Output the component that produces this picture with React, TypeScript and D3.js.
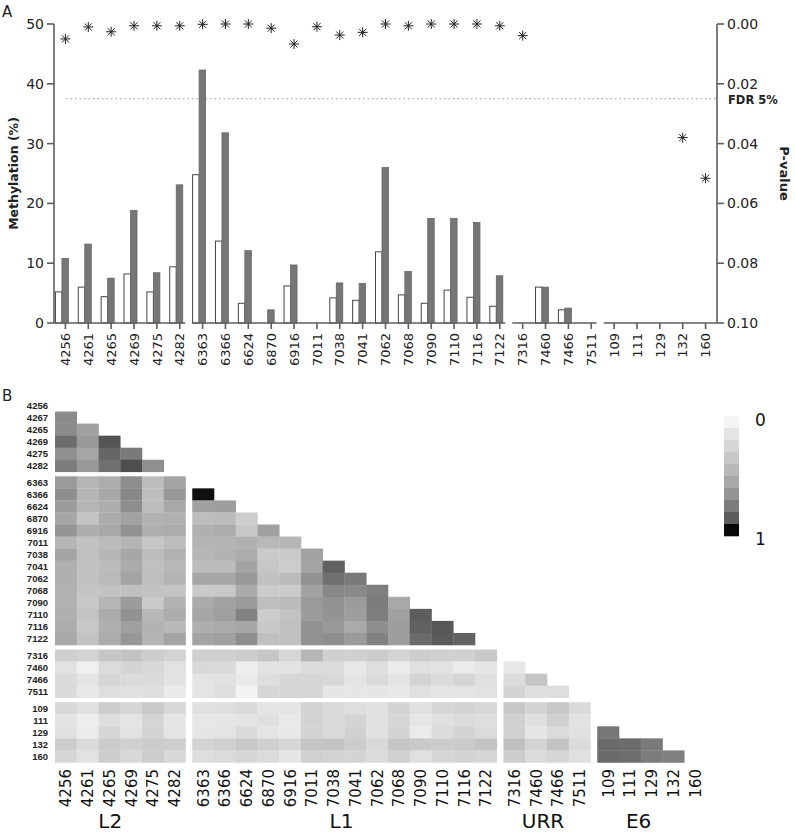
import React, { useEffect, useRef } from "react";
import * as d3 from "d3";

const sites = ["4256","4261","4265","4269","4275","4282","6363","6366","6624","6870","6916","7011","7038","7041","7062","7068","7090","7110","7116","7122","7316","7460","7466","7511","109","111","129","132","160"];
const rowLabels = ["4256","4267","4265","4269","4275","4282","6363","6366","6624","6870","6916","7011","7038","7041","7062","7068","7090","7110","7116","7122","7316","7460","7466","7511","109","111","129","132","160"];
const groups = ["L2","L1","URR","E6"];
const groupSizes = [6, 14, 4, 5];

const methylWhite = [5.2, 6.0, 4.4, 8.2, 5.2, 9.4, 24.8, 13.7, 3.3, 0, 6.2, 0, 4.2, 3.8, 11.9, 4.7, 3.3, 5.5, 4.3, 2.8, 0, 6.0, 2.2, 0, 0, 0, 0, 0, 0];
const methylGrey = [10.8, 13.2, 7.5, 18.8, 8.4, 23.1, 42.3, 31.8, 12.1, 2.2, 9.7, 0, 6.7, 6.6, 26.0, 8.6, 17.5, 17.5, 16.8, 7.9, 0, 6.0, 2.5, 0, 0, 0, 0, 0, 0];
const pValues: (number | null)[] = [0.005, 0.001, 0.0026, 0.0006, 0.0006, 0.0006, 0.0001, 0, 0, 0.0014, 0.0067, 0.0009, 0.0037, 0.0028, 0, 0.0006, 0, 0, 0, 0.0006, 0.0039, null, null, null, null, null, null, 0.038, 0.0516];
const methylTicks = [0, 10, 20, 30, 40, 50];
const pTicks = [0, 0.02, 0.04, 0.06, 0.08, 0.1];
const fdrThreshold = 0.025;

// lower-triangle correlation matrix (row i has values for columns 0..i-1)
const heat: (number | null)[][] = [
  [],
  [0.71],
  [0.71, 0.60],
  [0.83, 0.64, 0.90],
  [0.685, 0.567, 0.854, 0.785],
  [0.778, 0.64, 0.819, 0.906, 0.69],
  [0.633, 0.465, 0.528, 0.694, 0.41, 0.583],
  [0.694, 0.465, 0.556, 0.722, 0.403, 0.644, 0.99],
  [0.622, 0.458, 0.514, 0.694, 0.417, 0.556, 0.6, 0.61],
  [0.567, 0.361, 0.528, 0.589, 0.486, 0.5, 0.40, 0.417, 0.286],
  [0.66, 0.514, 0.556, 0.676, 0.5, 0.528, 0.5, 0.528, 0.333, 0.6],
  [0.458, 0.375, 0.424, 0.465, 0.347, 0.41, 0.472, 0.472, 0.5, 0.444, 0.458],
  [0.578, 0.389, 0.458, 0.562, 0.41, 0.486, 0.458, 0.486, 0.528, 0.32, 0.32, 0.589],
  [0.5, 0.389, 0.417, 0.535, 0.389, 0.444, 0.417, 0.417, 0.578, 0.347, 0.3, 0.578, 0.87],
  [0.5, 0.375, 0.431, 0.578, 0.396, 0.472, 0.567, 0.567, 0.644, 0.375, 0.431, 0.676, 0.819, 0.785],
  [0.486, 0.361, 0.375, 0.389, 0.375, 0.361, 0.32, 0.333, 0.54, 0.31, 0.31, 0.589, 0.722, 0.713, 0.765],
  [0.486, 0.333, 0.458, 0.622, 0.32, 0.486, 0.54, 0.589, 0.633, 0.40, 0.431, 0.633, 0.676, 0.622, 0.778, 0.556],
  [0.5, 0.361, 0.535, 0.676, 0.444, 0.528, 0.567, 0.61, 0.75, 0.31, 0.375, 0.622, 0.67, 0.61, 0.77, 0.6, 0.885],
  [0.528, 0.333, 0.5, 0.6, 0.486, 0.444, 0.514, 0.54, 0.567, 0.333, 0.389, 0.676, 0.64, 0.54, 0.694, 0.61, 0.87, 0.895],
  [0.556, 0.375, 0.528, 0.65, 0.472, 0.578, 0.578, 0.6, 0.694, 0.389, 0.389, 0.676, 0.694, 0.633, 0.75, 0.61, 0.84, 0.89, 0.865],
  [0.28, 0.25, 0.35, 0.37, 0.29, 0.25, 0.27, 0.27, 0.29, 0.35, 0.22, 0.46, 0.27, 0.27, 0.30, 0.24, 0.29, 0.27, 0.27, 0.33],
  [0.13, 0.03, 0.18, 0.24, 0.21, 0.13, 0.21, 0.19, 0.04, 0.13, 0.13, 0.18, 0.18, 0.08, 0.16, 0.06, 0.14, 0.13, 0.06, 0.10, 0.08],
  [0.18, 0.11, 0.22, 0.18, 0.19, 0.13, 0.11, 0.13, 0.07, 0.16, 0.22, 0.22, 0.21, 0.11, 0.19, 0.11, 0.25, 0.18, 0.24, 0.14, 0.18, 0.36],
  [0.19, 0.08, 0.16, 0.14, 0.16, 0.07, 0.11, 0.16, 0.01, 0.22, 0.22, 0.22, 0.10, 0.10, 0.10, 0.08, 0.14, 0.11, 0.11, 0.13, 0.24, 0.16, 0.16],
  [0.21, 0.14, 0.30, 0.22, 0.32, 0.21, 0.14, 0.16, 0.19, 0.11, 0.11, 0.25, 0.19, 0.16, 0.14, 0.25, 0.14, 0.22, 0.25, 0.21, 0.33, 0.24, 0.33, 0.19],
  [0.11, 0.04, 0.16, 0.11, 0.24, 0.10, 0.10, 0.10, 0.11, 0.14, 0.08, 0.25, 0.19, 0.24, 0.14, 0.22, 0.10, 0.14, 0.18, 0.16, 0.27, 0.14, 0.27, 0.13, null],
  [0.14, 0.06, 0.22, 0.13, 0.24, 0.11, 0.10, 0.11, 0.19, 0.11, 0.08, 0.24, 0.19, 0.27, 0.14, 0.24, 0.06, 0.18, 0.24, 0.18, 0.27, 0.10, 0.18, 0.14, 0.80, null],
  [0.29, 0.19, 0.30, 0.27, 0.30, 0.29, 0.25, 0.27, 0.33, 0.28, 0.22, 0.35, 0.36, 0.31, 0.21, 0.35, 0.32, 0.30, 0.32, 0.37, 0.39, 0.25, 0.36, 0.18, 0.84, 0.83, 0.785],
  [0.22, 0.13, 0.29, 0.21, 0.30, 0.21, 0.16, 0.18, 0.22, 0.18, 0.10, 0.27, 0.25, 0.24, 0.18, 0.27, 0.14, 0.22, 0.24, 0.22, 0.30, 0.18, 0.22, 0.14, 0.84, 0.83, 0.778, 0.76],
];
const legendGreys = ["#f4f4f4", "#e4e4e4", "#d6d6d6", "#c8c8c8", "#b8b8b8", "#a8a8a8", "#949494", "#7c7c7c", "#5c5c5c", "#080808"];
const legendLabels = ["0", "1"];

const W = 795, H = 833;
const FONT = "'DejaVu Sans', Verdana, sans-serif";
const ARIAL = "'Liberation Sans', Arial, sans-serif";

export default function App() {
  const ref = useRef<SVGSVGElement>(null);
  useEffect(() => {
    const svg = d3.select(ref.current!);
    svg.selectAll("*").remove();
    const groupOf: number[] = [];
    groupSizes.forEach((n, gi) => { for (let k = 0; k < n; k++) groupOf.push(gi); });
    const axisColor = "#5e5e5e";

    // ---------- Panel A ----------
    const left = 54, right = 717, top = 24, base = 323;
    const x = d3.scaleBand<string>().domain(sites).range([left, right]);
    const y = d3.scaleLinear().domain([0, 50]).range([base, top]);
    const py = d3.scaleLinear().domain([0, 0.1]).range([top, base]);
    const A = svg.append("g");

    A.append("text").attr("x", 2).attr("y", 17).text("A")
      .attr("font-family", FONT).attr("font-size", 15).attr("fill", "#222");

    // FDR line
    A.append("line").attr("x1", 66).attr("x2", right).attr("y1", py(fdrThreshold)).attr("y2", py(fdrThreshold))
      .attr("stroke", "#999").attr("stroke-width", 1).attr("stroke-dasharray", "1.5,3");
    A.append("text").attr("x", 728).attr("y", py(fdrThreshold) + 5).text("FDR 5%")
      .attr("font-family", FONT).attr("font-size", 11.5).attr("font-weight", "bold").attr("fill", "#222");

    // bars
    const idx = sites.map((_, i) => i);
    const cx = (i: number) => x(sites[i])! + x.bandwidth() / 2;
    A.selectAll("rect.w").data(idx.filter(i => methylWhite[i] > 0)).join("rect")
      .attr("x", i => cx(i) - 10).attr("width", 6.5)
      .attr("y", i => y(methylWhite[i])).attr("height", i => base - y(methylWhite[i]))
      .attr("fill", "#fff").attr("stroke", "#444").attr("stroke-width", 1);
    A.selectAll("rect.g").data(idx.filter(i => methylGrey[i] > 0)).join("rect")
      .attr("x", i => cx(i) - 3.5).attr("width", 6.5)
      .attr("y", i => y(methylGrey[i])).attr("height", i => base - y(methylGrey[i]))
      .attr("fill", "#767676").attr("stroke", "#666").attr("stroke-width", 0.8);

    // asterisks
    const star = (r: number) => {
      const p = d3.path();
      for (let k = 0; k < 4; k++) {
        const a = (k * Math.PI) / 4;
        p.moveTo(-r * Math.cos(a), -r * Math.sin(a));
        p.lineTo(r * Math.cos(a), r * Math.sin(a));
      }
      return p.toString();
    };
    A.selectAll("path.star").data(idx.filter(i => pValues[i] !== null)).join("path")
      .attr("d", star(5))
      .attr("transform", i => `translate(${cx(i)},${py(pValues[i] as number)})`)
      .attr("stroke", "#222").attr("stroke-width", 1).attr("fill", "none");

    // left axis
    A.append("line").attr("x1", left).attr("x2", left).attr("y1", top).attr("y2", base)
      .attr("stroke", axisColor).attr("stroke-width", 1.6);
    methylTicks.forEach(t => {
      A.append("line").attr("x1", left - 7).attr("x2", left).attr("y1", y(t)).attr("y2", y(t))
        .attr("stroke", axisColor).attr("stroke-width", 1.6);
      A.append("text").attr("x", left - 10).attr("y", y(t)).attr("dy", "0.36em")
        .attr("text-anchor", "end").text(String(t))
        .attr("font-family", FONT).attr("font-size", 14).attr("fill", "#222");
    });
    // right axis
    A.append("line").attr("x1", right).attr("x2", right).attr("y1", top).attr("y2", base)
      .attr("stroke", axisColor).attr("stroke-width", 1.6);
    pTicks.forEach(t => {
      A.append("line").attr("x1", right).attr("x2", right + 7).attr("y1", py(t)).attr("y2", py(t))
        .attr("stroke", axisColor).attr("stroke-width", 1.6);
      A.append("text").attr("x", right + 10).attr("y", py(t)).attr("dy", "0.36em")
        .text(t.toFixed(2))
        .attr("font-family", FONT).attr("font-size", 14).attr("fill", "#222");
    });
    // bottom axis segments per group
    let start = 0;
    groupSizes.forEach((n, gi) => {
      const first = sites[start], last = sites[start + n - 1];
      const x0 = gi === 0 ? left : x(first)! + 1;
      const x1 = gi === groupSizes.length - 1 ? right : x(last)! + x.bandwidth() - 6;
      A.append("line").attr("x1", x0).attr("x2", x1).attr("y1", base).attr("y2", base)
        .attr("stroke", axisColor).attr("stroke-width", 1.6);
      start += n;
    });
    sites.forEach((s, i) => {
      A.append("line").attr("x1", cx(i)).attr("x2", cx(i)).attr("y1", base).attr("y2", base + 6)
        .attr("stroke", axisColor).attr("stroke-width", 1.6);
      A.append("text").attr("transform", `translate(${cx(i)},${base + 10}) rotate(-90)`)
        .attr("text-anchor", "end").attr("dy", "0.36em").text(s)
        .attr("font-family", FONT).attr("font-size", 13).attr("fill", "#222");
    });
    A.append("text").attr("transform", `translate(18,${(top + base) / 2}) rotate(-90)`)
      .attr("text-anchor", "middle").text("Methylation (%)")
      .attr("font-family", FONT).attr("font-size", 12.5).attr("font-weight", "bold").attr("fill", "#222");
    A.append("text").attr("transform", `translate(780,${(top + base) / 2}) rotate(90)`)
      .attr("text-anchor", "middle").text("P-value")
      .attr("font-family", FONT).attr("font-size", 13).attr("font-weight", "bold").attr("fill", "#222");

    // ---------- Panel B ----------
    const B = svg.append("g");
    B.append("text").attr("x", 2).attr("y", 401).text("B")
      .attr("font-family", FONT).attr("font-size", 15).attr("fill", "#222");
    const n = sites.length;
    const colPos = d3.scaleLinear().domain([0, n]).range([55, 55 + n * 21.75]);
    const rowPos = d3.scaleLinear().domain([0, n]).range([399.5, 399.5 + n * 12.05]);
    const colGap = 6.75, rowGap = 4.5;
    const cw = 21.75, rh = 12.05;
    const hx = (i: number) => colPos(i) + groupOf[i] * colGap;
    const hy = (i: number) => rowPos(i) + groupOf[i] * rowGap;
    const color = d3.scaleLinear<string>()
      .domain(legendGreys.map((_, k) => k / (legendGreys.length - 1)))
      .range(legendGreys).clamp(true);
    const cells: { r: number; c: number; v: number }[] = [];
    heat.forEach((row, r) => row.forEach((v, c) => { if (v !== null) cells.push({ r, c, v }); }));
    B.selectAll("rect.cell").data(cells).join("rect")
      .attr("x", d => hx(d.c)).attr("y", d => hy(d.r))
      .attr("width", cw + 0.3).attr("height", rh + 0.3)
      .attr("fill", d => color(d.v));

    rowLabels.forEach((lab, i) => {
      B.append("text").attr("x", 48).attr("y", hy(i) + rh / 2).attr("dy", "0.36em")
        .attr("text-anchor", "end").text(lab)
        .attr("font-family", ARIAL).attr("font-size", 9.5).attr("font-weight", "bold").attr("fill", "#222");
    });
    sites.forEach((s, i) => {
      B.append("text").attr("transform", `translate(${hx(i) + cw / 2},769) rotate(-90)`)
        .attr("text-anchor", "end").attr("dy", "0.36em").text(s)
        .attr("font-family", FONT).attr("font-size", 15).attr("fill", "#111");
    });
    const labelShift = [-10, -3, -4, -13];
    let st = 0;
    groupSizes.forEach((gn, gi) => {
      const x0 = hx(st), x1 = hx(st + gn - 1) + cw;
      B.append("text").attr("x", (x0 + x1) / 2 + labelShift[gi]).attr("y", 828).attr("text-anchor", "middle")
        .text(groups[gi]).attr("font-family", FONT).attr("font-size", 20).attr("fill", "#111");
      st += gn;
    });

    // legend
    const lg = d3.scaleBand<number>().domain(d3.range(legendGreys.length)).range([416, 536]);
    B.selectAll("rect.leg").data(d3.range(legendGreys.length)).join("rect")
      .attr("x", 724).attr("width", 15).attr("y", k => lg(k)!).attr("height", lg.bandwidth() + 0.3)
      .attr("fill", k => legendGreys[k]);
    B.append("text").attr("x", 755).attr("y", 426).text(legendLabels[0])
      .attr("font-family", FONT).attr("font-size", 17).attr("fill", "#111");
    B.append("text").attr("x", 755).attr("y", 545).text(legendLabels[1])
      .attr("font-family", FONT).attr("font-size", 17).attr("fill", "#111");
  }, []);
  return <svg ref={ref} width={W} height={H} style={{ position: "absolute", left: 0, top: 0, background: "#fff" }} />;
}
